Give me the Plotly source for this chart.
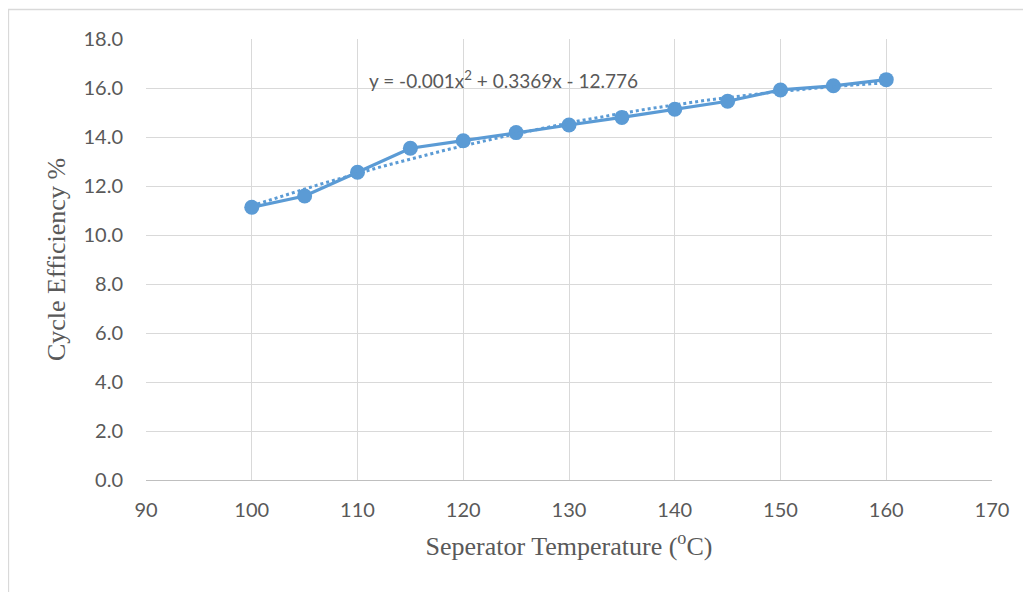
import numpy as np
import plotly.graph_objects as go

temperature = [100, 105, 110, 115, 120, 125, 130, 135, 140, 145, 150, 155, 160]
efficiency = [11.13, 11.59, 12.56, 13.54, 13.85, 14.18, 14.49, 14.80, 15.13, 15.46, 15.92, 16.09, 16.34]
x_ticks = [90, 100, 110, 120, 130, 140, 150, 160, 170]
y_ticks = [0, 2, 4, 6, 8, 10, 12, 14, 16, 18]
equation_text = "y = -0.001x<sup>2</sup> + 0.3369x - 12.776"

BLUE = "#5B9BD5"
GRID = "#D9D9D9"
TXT = "#595959"

# polynomial (order 2) trendline fitted to the data
coef = np.polyfit(temperature, efficiency, 2)
xt = np.linspace(min(temperature), max(temperature), 120)
yt = np.polyval(coef, xt)

W, H = 1031, 592
OFF = 8  # page body margin
# desired plot area in page pixels
PL, PR, PT, PB = 146, 992, 39, 480
L = PL - OFF
T = PT - OFF
R = W + OFF - PR
B = H + OFF - PB

pw = PR - PL
ph = PB - PT
def px_x(p):
    return (p - PL) / pw
def px_y(p):
    return (PB - p) / ph

fig = go.Figure()
fig.add_trace(go.Scatter(x=temperature, y=efficiency, mode="lines+markers",
                         line=dict(color=BLUE, width=3.2),
                         marker=dict(color=BLUE, size=15),
                         showlegend=False))
fig.add_trace(go.Scatter(x=xt, y=yt, mode="lines",
                         line=dict(color=BLUE, width=3, dash="dot"),
                         showlegend=False))

fig.add_shape(type="rect", xref="paper", yref="paper",
              x0=px_x(8.5), x1=px_x(1045), y0=px_y(610), y1=px_y(9.5),
              line=dict(color="#D9D9D9", width=1.3), layer="below")

fig.add_annotation(x=123.8, y=16.33, xref="x", yref="y", text=equation_text,
                   showarrow=False, xanchor="center", yanchor="middle",
                   font=dict(family="Lato, sans-serif", size=19, color=TXT))

fig.update_layout(
    width=W, height=H,
    margin=dict(l=L, r=R, t=T, b=B),
    paper_bgcolor="white", plot_bgcolor="white",
    xaxis=dict(range=[90, 170], tickvals=x_ticks, ticktext=[str(v) for v in x_ticks],
               showgrid=True, gridcolor=GRID, gridwidth=1.3,
               showline=True, linecolor="#BFBFBF", linewidth=1.3, mirror=False,
               zeroline=False, ticks="", ticklabelstandoff=12,
               tickfont=dict(family="Lato, sans-serif", size=20, color=TXT),
               title=dict(text="Seperator Temperature (<sup>o</sup>C)", standoff=16,
                          font=dict(family="Liberation Serif, Times New Roman, serif", size=26, color=TXT))),
    yaxis=dict(range=[0, 18], tickvals=y_ticks, ticktext=[f"{v:.1f}" for v in y_ticks],
               showgrid=True, gridcolor=GRID, gridwidth=1.3,
               showline=False, zeroline=False, ticks="", ticklabelstandoff=22,
               tickfont=dict(family="Lato, sans-serif", size=20, color=TXT),
               title=dict(text="Cycle Efficiency %", standoff=10,
                          font=dict(family="Liberation Serif, Times New Roman, serif", size=26, color=TXT))),
)

fig.write_html("out.html")
